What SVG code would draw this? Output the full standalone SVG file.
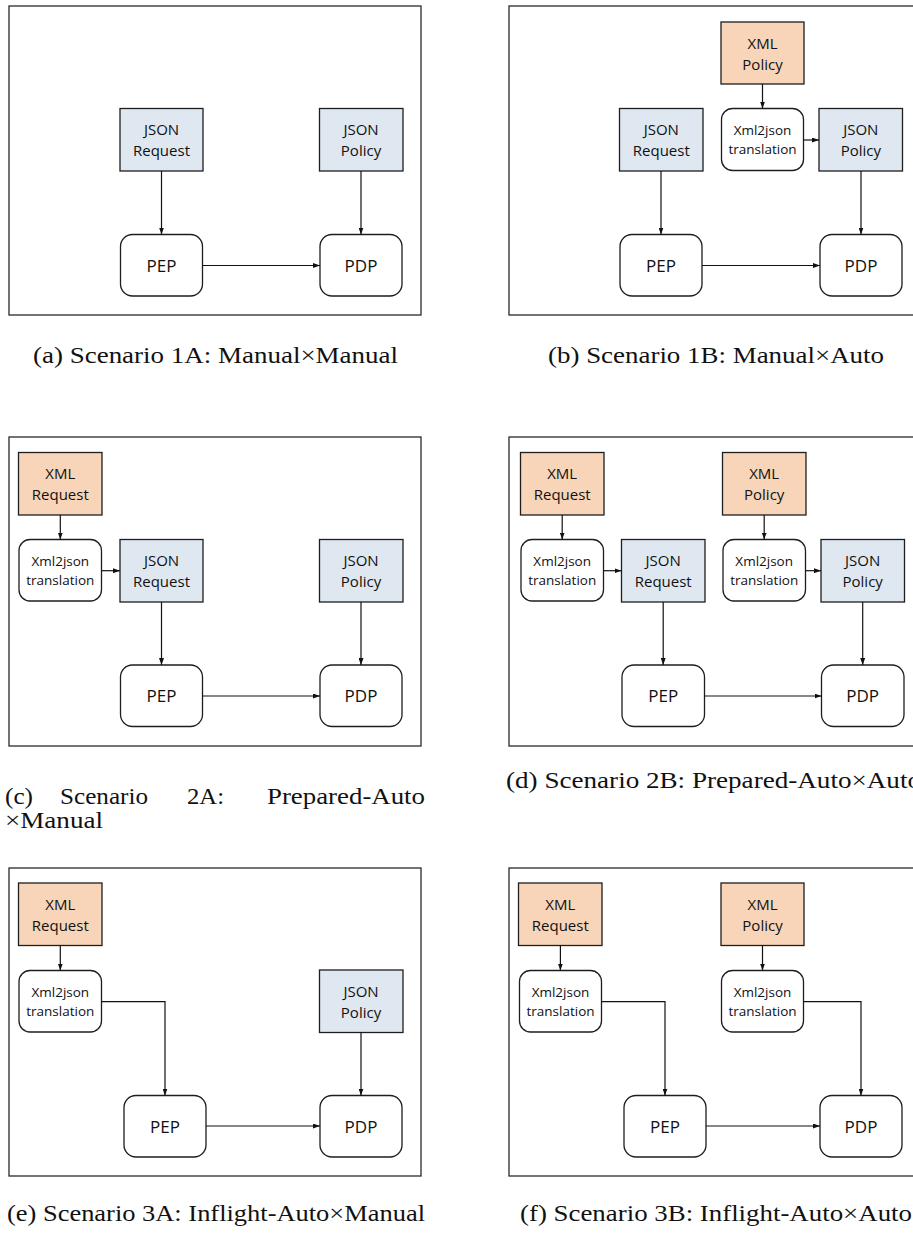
<svg xmlns="http://www.w3.org/2000/svg" width="913" height="1233" viewBox="0 0 913 1233">
  <defs>
    <marker id="arrow" viewBox="0 0 7 5" markerWidth="7" markerHeight="5" refX="7" refY="2.5" orient="auto" markerUnits="userSpaceOnUse">
      <path d="M0,0 L7,2.5 L0,5 z" fill="#111"/>
    </marker>
    <style>
      .frame { fill: #fff; stroke: #2a2a2a; stroke-width: 1.3; }
      .json { fill: #dfe8f1; stroke: #1e1e1e; stroke-width: 1.3; }
      .xml { fill: #f8d5b8; stroke: #1e1e1e; stroke-width: 1.3; }
      .proc { fill: #fff; stroke: #1e1e1e; stroke-width: 1.3; }
      .edge { fill: none; stroke: #111; stroke-width: 1.2; marker-end: url(#arrow); }
      .lbl { font-family: "Open Sans", "Liberation Sans", sans-serif; font-size: 15px; text-anchor: middle; fill: #111; }
      .small { font-family: "Open Sans", "Liberation Sans", sans-serif; font-size: 13.5px; text-anchor: middle; fill: #111; }
      .big { font-family: "Open Sans", "Liberation Sans", sans-serif; font-size: 17px; text-anchor: middle; fill: #111; }
      .cap { font-family: "Liberation Serif", "DejaVu Serif", serif; font-size: 24px; fill: #111; }
    </style>
  </defs>

  <!-- panel frames -->
  <g id="frames">
    <rect class="frame" x="9" y="6" width="412" height="309"/>
    <rect class="frame" x="509" y="6" width="412" height="309"/>
    <rect class="frame" x="9" y="437" width="412" height="309"/>
    <rect class="frame" x="509" y="437" width="412" height="309"/>
    <rect class="frame" x="9" y="868" width="412" height="308"/>
    <rect class="frame" x="509" y="868" width="412" height="308"/>
  </g>

  <!-- (a) Manual x Manual -->
  <g id="a-json-request"><rect class="json" x="120" y="108.5" width="83" height="62.5"/><text class="lbl" x="161.5" y="135">JSON</text><text class="lbl" x="161.5" y="156">Request</text></g>
  <g id="a-json-policy"><rect class="json" x="319.5" y="108.5" width="83.5" height="62.5"/><text class="lbl" x="361" y="135">JSON</text><text class="lbl" x="361" y="156">Policy</text></g>
  <g id="a-pep"><rect class="proc" x="120.5" y="234.5" width="82" height="61.5" rx="12"/><text class="big" x="161.5" y="271.5">PEP</text></g>
  <g id="a-pdp"><rect class="proc" x="320" y="234.5" width="82" height="61.5" rx="12"/><text class="big" x="361" y="271.5">PDP</text></g>

  <!-- (b) Manual x Auto -->
  <g id="b-xml-policy"><rect class="xml" x="721" y="22" width="83" height="62"/><text class="lbl" x="762.5" y="48.5">XML</text><text class="lbl" x="762.5" y="69.5">Policy</text></g>
  <g id="b-xml2json"><rect class="proc" x="721.5" y="108.5" width="82" height="62" rx="11"/><text class="small" x="762.5" y="135">Xml2json</text><text class="small" x="762.5" y="154">translation</text></g>
  <g id="b-json-request"><rect class="json" x="619.5" y="108.5" width="83.5" height="62.5"/><text class="lbl" x="661.3" y="135">JSON</text><text class="lbl" x="661.3" y="156">Request</text></g>
  <g id="b-json-policy"><rect class="json" x="819" y="108.5" width="83.5" height="62.5"/><text class="lbl" x="860.8" y="135">JSON</text><text class="lbl" x="860.8" y="156">Policy</text></g>
  <g id="b-pep"><rect class="proc" x="620" y="234.5" width="82" height="61.5" rx="12"/><text class="big" x="661" y="271.5">PEP</text></g>
  <g id="b-pdp"><rect class="proc" x="820" y="234.5" width="82" height="61.5" rx="12"/><text class="big" x="861" y="271.5">PDP</text></g>

  <!-- (c) Prepared-Auto x Manual -->
  <g id="c-xml-request"><rect class="xml" x="18.5" y="452.5" width="83.5" height="62.5"/><text class="lbl" x="60.3" y="479.3">XML</text><text class="lbl" x="60.3" y="500.3">Request</text></g>
  <g id="c-xml2json"><rect class="proc" x="19" y="539.5" width="82.5" height="61.5" rx="11"/><text class="small" x="60.3" y="566">Xml2json</text><text class="small" x="60.3" y="585">translation</text></g>
  <g id="c-json-request"><rect class="json" x="120" y="539.5" width="83" height="62.5"/><text class="lbl" x="161.5" y="566">JSON</text><text class="lbl" x="161.5" y="587">Request</text></g>
  <g id="c-json-policy"><rect class="json" x="319.5" y="539.5" width="83.5" height="62.5"/><text class="lbl" x="361" y="566">JSON</text><text class="lbl" x="361" y="587">Policy</text></g>
  <g id="c-pep"><rect class="proc" x="120.5" y="665" width="82" height="61.5" rx="12"/><text class="big" x="161.5" y="702">PEP</text></g>
  <g id="c-pdp"><rect class="proc" x="320" y="665" width="82" height="61.5" rx="12"/><text class="big" x="361" y="702">PDP</text></g>

  <!-- (d) Prepared-Auto x Auto -->
  <g id="d-xml-request"><rect class="xml" x="520.5" y="452.5" width="83.5" height="62.5"/><text class="lbl" x="562.2" y="479.3">XML</text><text class="lbl" x="562.2" y="500.3">Request</text></g>
  <g id="d-xml2json-request"><rect class="proc" x="521" y="539.5" width="82.5" height="61.5" rx="11"/><text class="small" x="562.2" y="566">Xml2json</text><text class="small" x="562.2" y="585">translation</text></g>
  <g id="d-json-request"><rect class="json" x="621.5" y="539.5" width="83.5" height="62.5"/><text class="lbl" x="663.2" y="566">JSON</text><text class="lbl" x="663.2" y="587">Request</text></g>
  <g id="d-xml-policy"><rect class="xml" x="722.5" y="452.5" width="83.5" height="62.5"/><text class="lbl" x="764.2" y="479.3">XML</text><text class="lbl" x="764.2" y="500.3">Policy</text></g>
  <g id="d-xml2json-policy"><rect class="proc" x="723" y="539.5" width="82.5" height="61.5" rx="11"/><text class="small" x="764.2" y="566">Xml2json</text><text class="small" x="764.2" y="585">translation</text></g>
  <g id="d-json-policy"><rect class="json" x="821" y="539.5" width="83.5" height="62.5"/><text class="lbl" x="862.7" y="566">JSON</text><text class="lbl" x="862.7" y="587">Policy</text></g>
  <g id="d-pep"><rect class="proc" x="622" y="665" width="82.5" height="61.5" rx="12"/><text class="big" x="663.2" y="702">PEP</text></g>
  <g id="d-pdp"><rect class="proc" x="821.5" y="665" width="82.5" height="61.5" rx="12"/><text class="big" x="862.7" y="702">PDP</text></g>

  <!-- (e) Inflight-Auto x Manual -->
  <g id="e-xml-request"><rect class="xml" x="18.5" y="883" width="83.5" height="62.5"/><text class="lbl" x="60.3" y="910">XML</text><text class="lbl" x="60.3" y="931">Request</text></g>
  <g id="e-xml2json"><rect class="proc" x="19" y="970.5" width="82.5" height="61.5" rx="11"/><text class="small" x="60.3" y="997">Xml2json</text><text class="small" x="60.3" y="1016">translation</text></g>
  <g id="e-json-policy"><rect class="json" x="319.5" y="970" width="83.5" height="62.5"/><text class="lbl" x="361" y="996.5">JSON</text><text class="lbl" x="361" y="1017.5">Policy</text></g>
  <g id="e-pep"><rect class="proc" x="124" y="1095.5" width="82" height="61.5" rx="12"/><text class="big" x="165" y="1132.5">PEP</text></g>
  <g id="e-pdp"><rect class="proc" x="320" y="1095.5" width="82" height="61.5" rx="12"/><text class="big" x="361" y="1132.5">PDP</text></g>

  <!-- (f) Inflight-Auto x Auto -->
  <g id="f-xml-request"><rect class="xml" x="518.5" y="883" width="83.5" height="62.5"/><text class="lbl" x="560.3" y="910">XML</text><text class="lbl" x="560.3" y="931">Request</text></g>
  <g id="f-xml2json-request"><rect class="proc" x="519.5" y="970.5" width="82" height="61.5" rx="11"/><text class="small" x="560.5" y="997">Xml2json</text><text class="small" x="560.5" y="1016">translation</text></g>
  <g id="f-xml-policy"><rect class="xml" x="721" y="883" width="83" height="62.5"/><text class="lbl" x="762.5" y="910">XML</text><text class="lbl" x="762.5" y="931">Policy</text></g>
  <g id="f-xml2json-policy"><rect class="proc" x="721.5" y="970.5" width="82" height="61.5" rx="11"/><text class="small" x="762.5" y="997">Xml2json</text><text class="small" x="762.5" y="1016">translation</text></g>
  <g id="f-pep"><rect class="proc" x="624" y="1095.5" width="82" height="61.5" rx="12"/><text class="big" x="665" y="1132.5">PEP</text></g>
  <g id="f-pdp"><rect class="proc" x="820" y="1095.5" width="82" height="61.5" rx="12"/><text class="big" x="861" y="1132.5">PDP</text></g>

  <!-- connectors -->
  <g id="connectors">
    <path class="edge" d="M161.5,171 V234.5"/>
    <path class="edge" d="M361,171 V234.5"/>
    <path class="edge" d="M202.5,265.5 H320"/>

    <path class="edge" d="M762.5,84 V108.5"/>
    <path class="edge" d="M803.5,140 H819"/>
    <path class="edge" d="M661,171 V234.5"/>
    <path class="edge" d="M861,171 V234.5"/>
    <path class="edge" d="M702,265.5 H820"/>

    <path class="edge" d="M60.3,515 V539.5"/>
    <path class="edge" d="M101.5,570.7 H120"/>
    <path class="edge" d="M161.5,602 V665"/>
    <path class="edge" d="M361,602 V665"/>
    <path class="edge" d="M202.5,696 H320"/>

    <path class="edge" d="M562.2,515 V539.5"/>
    <path class="edge" d="M603.5,570.7 H621.5"/>
    <path class="edge" d="M764.2,515 V539.5"/>
    <path class="edge" d="M805.5,570.7 H821"/>
    <path class="edge" d="M663.2,602 V665"/>
    <path class="edge" d="M862.7,602 V665"/>
    <path class="edge" d="M704.5,696 H821.5"/>

    <path class="edge" d="M60.3,945.5 V970.5"/>
    <path class="edge" d="M101.5,1001.7 H165 V1095.5"/>
    <path class="edge" d="M361,1032.5 V1095.5"/>
    <path class="edge" d="M206,1126 H320"/>

    <path class="edge" d="M560.4,945.5 V970.5"/>
    <path class="edge" d="M601.5,1001.7 H665 V1095.5"/>
    <path class="edge" d="M762.5,945.5 V970.5"/>
    <path class="edge" d="M803.5,1001.7 H861 V1095.5"/>
    <path class="edge" d="M706,1126 H820"/>
  </g>

  <!-- sub-figure captions -->
  <g id="captions">
    <text class="cap" x="33" y="363" textLength="365" lengthAdjust="spacingAndGlyphs">(a) Scenario 1A: Manual×Manual</text>
    <text class="cap" x="548" y="363" textLength="336" lengthAdjust="spacingAndGlyphs">(b) Scenario 1B: Manual×Auto</text>
    <text class="cap" x="5" y="804" textLength="28" lengthAdjust="spacingAndGlyphs">(c)</text>
    <text class="cap" x="60" y="804" textLength="88" lengthAdjust="spacingAndGlyphs">Scenario</text>
    <text class="cap" x="187" y="804" textLength="37" lengthAdjust="spacingAndGlyphs">2A:</text>
    <text class="cap" x="267" y="804" textLength="158" lengthAdjust="spacingAndGlyphs">Prepared-Auto</text>
    <text class="cap" x="5" y="828" textLength="98" lengthAdjust="spacingAndGlyphs">×Manual</text>
    <text class="cap" x="506" y="788" textLength="415" lengthAdjust="spacingAndGlyphs">(d) Scenario 2B: Prepared-Auto×Auto</text>
    <text class="cap" x="7" y="1221" textLength="418" lengthAdjust="spacingAndGlyphs">(e) Scenario 3A: Inflight-Auto×Manual</text>
    <text class="cap" x="520" y="1221" textLength="392" lengthAdjust="spacingAndGlyphs">(f) Scenario 3B: Inflight-Auto×Auto</text>
  </g>
</svg>
